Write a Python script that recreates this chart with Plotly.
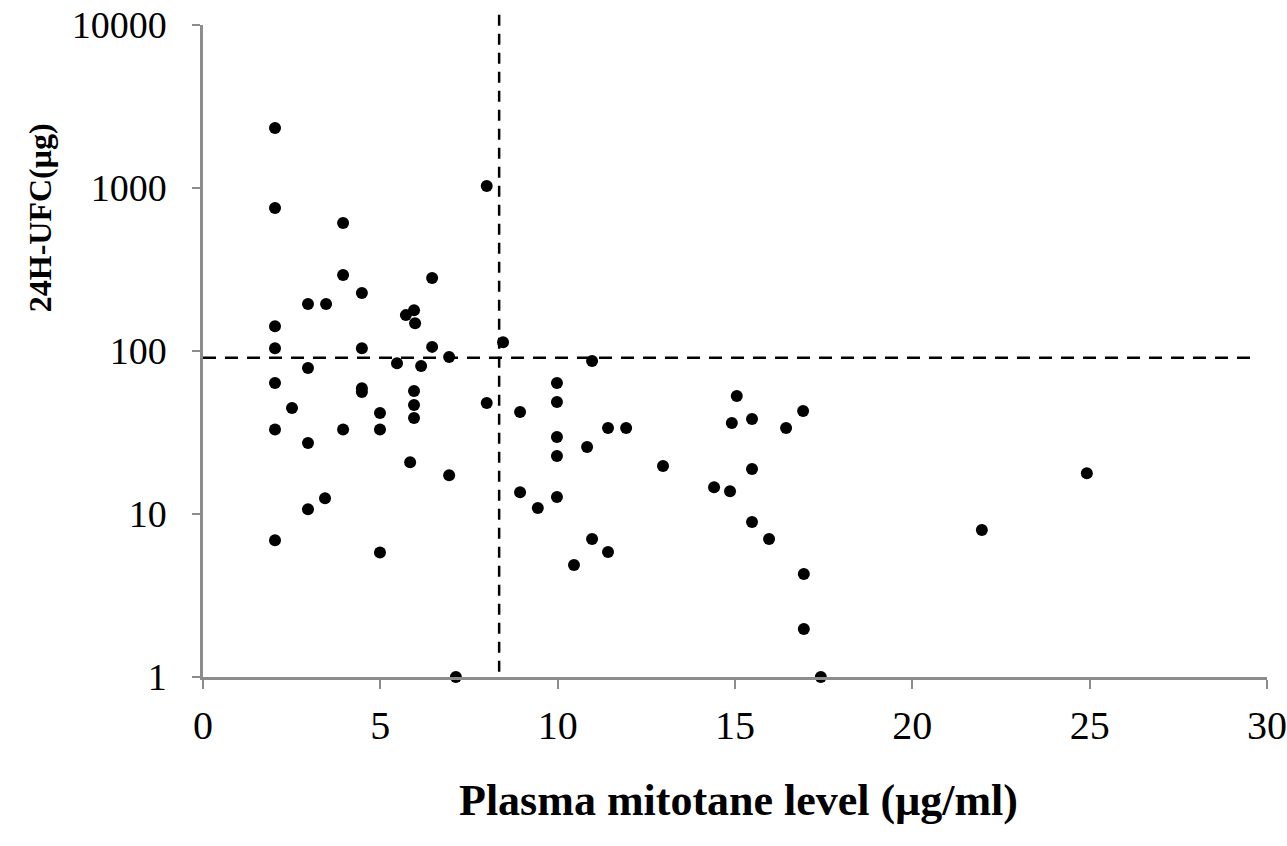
import plotly.graph_objects as go

# Plasma mitotane level (µg/ml)
mitotane = [2.03, 2.03, 2.03, 2.03, 2.03, 2.03, 2.03,
            2.51,
            2.96, 2.96, 2.96, 2.96,
            3.47, 3.44,
            3.95, 3.95, 3.95,
            4.48, 4.48, 4.48, 4.48,
            4.99, 4.99, 4.99,
            5.47,
            5.72, 5.95, 5.98, 5.95, 5.95, 5.95, 5.84,
            6.15,
            6.46, 6.46,
            6.94, 6.94,
            7.13,
            8.0, 8.0,
            8.46,
            8.94, 8.94,
            9.44,
            9.98, 9.98, 9.98, 9.98, 9.98,
            10.46,
            10.83,
            10.97, 10.97,
            11.42, 11.42,
            11.93,
            12.97,
            14.41, 14.86, 14.91, 15.05,
            15.48, 15.48, 15.48,
            15.96,
            16.44,
            16.92, 16.94, 16.94,
            17.42,
            21.96, 24.92]

# 24H-UFC (µg)
ufc = [2334, 754, 142, 104, 63.6, 33, 6.9,
       44.7,
       194, 78.7, 27.3, 10.7,
       194, 12.5,
       610, 293, 33,
       227, 104, 59, 56,
       41.7, 33, 5.8,
       84,
       166, 178, 148, 56.9, 46.6, 38.8, 20.8,
       81,
       280, 106,
       92, 17.3,
       1,
       1028, 48,
       113,
       42.2, 13.6,
       10.9,
       63.6, 48.7, 29.7, 22.7, 12.7,
       4.87,
       25.8,
       86.9, 7.03,
       33.7, 5.85,
       33.7,
       19.7,
       14.6, 13.8, 36.2, 53,
       38.3, 18.9, 8.93,
       7.03,
       33.7,
       42.9, 4.28, 1.97,
       1,
       7.98, 17.8]

x_ticks = [0, 5, 10, 15, 20, 25, 30]
y_ticks = [1, 10, 100, 1000, 10000]
y_tick_labels = ["1", "10", "100", "1000", "10000"]

UFC_THRESHOLD = 91
MITOTANE_THRESHOLD = 8.35
H_LINE_END = 29.6

fig = go.Figure()
fig.add_trace(go.Scatter(
    x=mitotane, y=ufc, mode="markers",
    marker=dict(color="black", size=12),
    cliponaxis=False, showlegend=False,
))

# threshold lines
fig.add_shape(type="line", xref="x", yref="y",
              x0=0, x1=H_LINE_END, y0=UFC_THRESHOLD, y1=UFC_THRESHOLD,
              line=dict(color="black", width=2.5, dash="13px,9px"))
fig.add_shape(type="line", xref="x", yref="paper",
              x0=MITOTANE_THRESHOLD, x1=MITOTANE_THRESHOLD, y0=0.008, y1=1.023,
              line=dict(color="black", width=2.5, dash="11px,8px"))

serif = "Liberation Serif, Times New Roman, serif"

fig.update_layout(
    width=1287, height=846,
    margin=dict(l=203, r=20, t=25, b=169, autoexpand=False),
    paper_bgcolor="white", plot_bgcolor="white",
    font=dict(family=serif, color="black"),
    xaxis=dict(
        range=[0, 30], tickvals=x_ticks, ticktext=[str(v) for v in x_ticks],
        showgrid=False, zeroline=False, automargin=False,
        showline=True, linecolor="#8c8c8c", linewidth=2.5,
        ticks="outside", ticklen=9, tickcolor="#8c8c8c", tickwidth=1.5,
        tickfont=dict(family=serif, size=40, color="black"),
        ticklabelstandoff=2, ticklabeloverflow="allow",
    ),
    yaxis=dict(
        type="log", range=[0, 4], tickvals=y_ticks, ticktext=y_tick_labels,
        showgrid=False, zeroline=False, automargin=False,
        showline=True, linecolor="#8c8c8c", linewidth=2.5,
        ticks="outside", ticklen=8, tickcolor="#8c8c8c", tickwidth=1.5,
        tickfont=dict(family=serif, size=38, color="black"),
        ticklabelstandoff=18, ticklabeloverflow="allow",
    ),
    annotations=[
        dict(text="<b>Plasma mitotane level (μg/ml)</b>", xref="paper", yref="paper",
             x=0.503, y=-0.189, xanchor="center", yanchor="middle", showarrow=False,
             font=dict(family=serif, size=44, color="black")),
        dict(text="<b>24H-UFC(μg)</b>", xref="paper", yref="paper",
             x=-0.153, y=0.704, xanchor="center", yanchor="middle", showarrow=False,
             textangle=-90, font=dict(family=serif, size=32, color="black")),
    ],
)

fig.write_html("out.html", config={"displayModeBar": False},
               post_script="document.body.style.margin='0';")
